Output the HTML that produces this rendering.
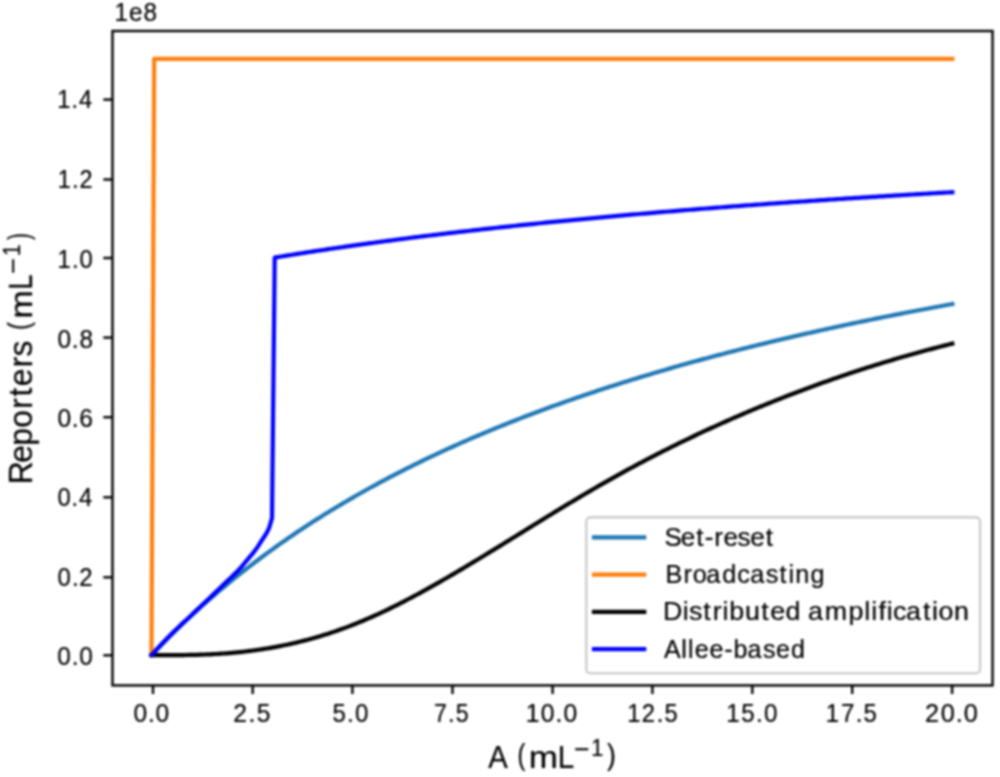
<!DOCTYPE html>
<html><head><meta charset="utf-8"><style>
html,body{margin:0;padding:0;background:#fff;}
svg{display:block;filter:blur(0.9px);}
text{font-family:"Liberation Sans", sans-serif;}
</style></head><body>
<svg width="1000" height="777" viewBox="0 0 1000 777">
<rect width="1000" height="777" fill="#fff"/>
<clipPath id="c"><rect x="112.5" y="31.0" width="880.05" height="654.4"/></clipPath>
<g clip-path="url(#c)">
<polyline points="151.50,655.10 154.18,652.27 156.86,649.46 159.53,646.68 162.21,643.93 164.89,641.20 167.57,638.50 170.25,635.82 172.93,633.17 175.60,630.54 178.28,627.94 180.96,625.35 183.64,622.80 186.32,620.26 189.00,617.75 191.67,615.26 194.35,612.79 197.03,610.34 199.71,607.92 202.39,605.52 205.07,603.13 207.74,600.77 210.42,598.43 213.10,596.11 215.78,593.81 218.46,591.52 221.13,589.26 223.81,587.02 226.49,584.79 229.17,582.59 231.85,580.40 234.53,578.23 237.20,576.08 239.88,573.94 242.56,571.83 245.24,569.73 247.92,567.64 250.60,565.58 253.27,563.53 255.95,561.50 258.63,559.48 261.31,557.48 263.99,555.50 266.67,553.53 269.34,551.58 272.02,549.64 274.70,547.71 277.38,545.81 280.06,543.91 282.73,542.04 285.41,540.17 288.09,538.32 290.77,536.49 293.45,534.67 296.13,532.86 298.80,531.06 301.48,529.28 304.16,527.52 306.84,525.76 309.52,524.02 312.20,522.29 314.87,520.58 317.55,518.88 320.23,517.19 322.91,515.51 325.59,513.84 328.27,512.19 330.94,510.55 333.62,508.92 336.30,507.30 338.98,505.69 341.66,504.10 344.33,502.51 347.01,500.94 349.69,499.38 352.37,497.83 355.05,496.29 357.73,494.76 360.40,493.24 363.08,491.73 365.76,490.24 368.44,488.75 371.12,487.27 373.80,485.81 376.47,484.35 379.15,482.90 381.83,481.46 384.51,480.04 387.19,478.62 389.87,477.21 392.54,475.81 395.22,474.42 397.90,473.04 400.58,471.67 403.26,470.31 405.93,468.95 408.61,467.61 411.29,466.27 413.97,464.94 416.65,463.63 419.33,462.32 422.00,461.01 424.68,459.72 427.36,458.43 430.04,457.16 432.72,455.89 435.40,454.63 438.07,453.38 440.75,452.13 443.43,450.89 446.11,449.66 448.79,448.44 451.47,447.23 454.14,446.02 456.82,444.82 459.50,443.63 462.18,442.44 464.86,441.27 467.53,440.10 470.21,438.93 472.89,437.78 475.57,436.63 478.25,435.49 480.93,434.35 483.60,433.22 486.28,432.10 488.96,430.99 491.64,429.88 494.32,428.78 497.00,427.68 499.67,426.59 502.35,425.51 505.03,424.43 507.71,423.36 510.39,422.30 513.07,421.24 515.74,420.19 518.42,419.14 521.10,418.11 523.78,417.07 526.46,416.04 529.13,415.02 531.81,414.01 534.49,413.00 537.17,411.99 539.85,410.99 542.53,410.00 545.20,409.01 547.88,408.03 550.56,407.05 553.24,406.08 555.92,405.12 558.60,404.16 561.27,403.20 563.95,402.25 566.63,401.31 569.31,400.37 571.99,399.43 574.67,398.50 577.34,397.58 580.02,396.66 582.70,395.75 585.38,394.84 588.06,393.93 590.73,393.03 593.41,392.14 596.09,391.25 598.77,390.36 601.45,389.48 604.13,388.61 606.80,387.73 609.48,386.87 612.16,386.00 614.84,385.15 617.52,384.29 620.20,383.44 622.87,382.60 625.55,381.76 628.23,380.92 630.91,380.09 633.59,379.26 636.27,378.44 638.94,377.62 641.62,376.81 644.30,376.00 646.98,375.19 649.66,374.39 652.33,373.59 655.01,372.80 657.69,372.01 660.37,371.22 663.05,370.44 665.73,369.66 668.40,368.88 671.08,368.11 673.76,367.35 676.44,366.58 679.12,365.82 681.80,365.07 684.47,364.31 687.15,363.57 689.83,362.82 692.51,362.08 695.19,361.34 697.87,360.61 700.54,359.88 703.22,359.15 705.90,358.43 708.58,357.71 711.26,356.99 713.93,356.28 716.61,355.57 719.29,354.86 721.97,354.16 724.65,353.46 727.33,352.76 730.00,352.07 732.68,351.38 735.36,350.69 738.04,350.01 740.72,349.33 743.40,348.65 746.07,347.98 748.75,347.30 751.43,346.64 754.11,345.97 756.79,345.31 759.47,344.65 762.14,344.00 764.82,343.34 767.50,342.69 770.18,342.05 772.86,341.40 775.53,340.76 778.21,340.12 780.89,339.49 783.57,338.86 786.25,338.23 788.93,337.60 791.60,336.98 794.28,336.35 796.96,335.74 799.64,335.12 802.32,334.51 805.00,333.90 807.67,333.29 810.35,332.68 813.03,332.08 815.71,331.48 818.39,330.89 821.07,330.29 823.74,329.70 826.42,329.11 829.10,328.52 831.78,327.94 834.46,327.36 837.13,326.78 839.81,326.20 842.49,325.63 845.17,325.05 847.85,324.49 850.53,323.92 853.20,323.35 855.88,322.79 858.56,322.23 861.24,321.67 863.92,321.12 866.60,320.57 869.27,320.02 871.95,319.47 874.63,318.92 877.31,318.38 879.99,317.84 882.67,317.30 885.34,316.76 888.02,316.23 890.70,315.69 893.38,315.16 896.06,314.63 898.73,314.11 901.41,313.58 904.09,313.06 906.77,312.54 909.45,312.03 912.13,311.51 914.80,311.00 917.48,310.49 920.16,309.98 922.84,309.47 925.52,308.96 928.20,308.46 930.87,307.96 933.55,307.46 936.23,306.96 938.91,306.47 941.59,305.98 944.27,305.49 946.94,305.00 949.62,304.51 952.30,304.02" fill="none" stroke="#1f77b4" stroke-width="4.2" stroke-linejoin="round" stroke-linecap="square"/>
<polyline points="151.50,655.10 154.18,58.90 952.30,58.90" fill="none" stroke="#ff7f0e" stroke-width="4.2" stroke-linejoin="round" stroke-linecap="square"/>
<polyline points="151.50,655.07 154.18,655.09 156.86,655.10 159.53,655.12 162.21,655.13 164.89,655.13 167.57,655.13 170.25,655.13 172.93,655.13 175.60,655.11 178.28,655.10 180.96,655.07 183.64,655.04 186.32,655.01 189.00,654.96 191.67,654.91 194.35,654.85 197.03,654.78 199.71,654.70 202.39,654.61 205.07,654.51 207.74,654.40 210.42,654.28 213.10,654.15 215.78,654.01 218.46,653.85 221.13,653.68 223.81,653.50 226.49,653.30 229.17,653.09 231.85,652.86 234.53,652.62 237.20,652.37 239.88,652.09 242.56,651.81 245.24,651.51 247.92,651.19 250.60,650.85 253.27,650.50 255.95,650.14 258.63,649.75 261.31,649.36 263.99,648.94 266.67,648.51 269.34,648.06 272.02,647.59 274.70,647.11 277.38,646.61 280.06,646.09 282.73,645.56 285.41,645.01 288.09,644.43 290.77,643.85 293.45,643.24 296.13,642.62 298.80,641.97 301.48,641.31 304.16,640.63 306.84,639.93 309.52,639.21 312.20,638.48 314.87,637.72 317.55,636.95 320.23,636.15 322.91,635.34 325.59,634.50 328.27,633.65 330.94,632.78 333.62,631.88 336.30,630.97 338.98,630.03 341.66,629.08 344.33,628.10 347.01,627.11 349.69,626.09 352.37,625.05 355.05,623.99 357.73,622.91 360.40,621.81 363.08,620.69 365.76,619.55 368.44,618.40 371.12,617.22 373.80,616.03 376.47,614.81 379.15,613.58 381.83,612.34 384.51,611.07 387.19,609.79 389.87,608.50 392.54,607.19 395.22,605.86 397.90,604.52 400.58,603.16 403.26,601.79 405.93,600.41 408.61,599.01 411.29,597.60 413.97,596.18 416.65,594.74 419.33,593.30 422.00,591.84 424.68,590.37 427.36,588.89 430.04,587.40 432.72,585.90 435.40,584.39 438.07,582.87 440.75,581.34 443.43,579.80 446.11,578.25 448.79,576.70 451.47,575.14 454.14,573.57 456.82,572.00 459.50,570.41 462.18,568.83 464.86,567.23 467.53,565.63 470.21,564.03 472.89,562.42 475.57,560.80 478.25,559.18 480.93,557.56 483.60,555.93 486.28,554.30 488.96,552.66 491.64,551.02 494.32,549.38 497.00,547.74 499.67,546.09 502.35,544.44 505.03,542.79 507.71,541.14 510.39,539.48 513.07,537.83 515.74,536.17 518.42,534.51 521.10,532.86 523.78,531.20 526.46,529.54 529.13,527.89 531.81,526.23 534.49,524.58 537.17,522.92 539.85,521.27 542.53,519.62 545.20,517.98 547.88,516.33 550.56,514.69 553.24,513.05 555.92,511.41 558.60,509.78 561.27,508.15 563.95,506.53 566.63,504.91 569.31,503.30 571.99,501.69 574.67,500.08 577.34,498.48 580.02,496.89 582.70,495.30 585.38,493.72 588.06,492.15 590.73,490.58 593.41,489.02 596.09,487.47 598.77,485.92 601.45,484.39 604.13,482.86 606.80,481.34 609.48,479.82 612.16,478.32 614.84,476.82 617.52,475.33 620.20,473.85 622.87,472.38 625.55,470.91 628.23,469.46 630.91,468.01 633.59,466.56 636.27,465.13 638.94,463.70 641.62,462.28 644.30,460.87 646.98,459.47 649.66,458.07 652.33,456.69 655.01,455.31 657.69,453.93 660.37,452.57 663.05,451.21 665.73,449.86 668.40,448.52 671.08,447.18 673.76,445.85 676.44,444.53 679.12,443.22 681.80,441.91 684.47,440.61 687.15,439.32 689.83,438.03 692.51,436.76 695.19,435.49 697.87,434.22 700.54,432.97 703.22,431.72 705.90,430.47 708.58,429.24 711.26,428.01 713.93,426.79 716.61,425.57 719.29,424.37 721.97,423.16 724.65,421.97 727.33,420.78 730.00,419.60 732.68,418.43 735.36,417.26 738.04,416.10 740.72,414.95 743.40,413.80 746.07,412.66 748.75,411.53 751.43,410.40 754.11,409.28 756.79,408.16 759.47,407.05 762.14,405.95 764.82,404.86 767.50,403.77 770.18,402.68 772.86,401.61 775.53,400.54 778.21,399.47 780.89,398.42 783.57,397.37 786.25,396.32 788.93,395.28 791.60,394.25 794.28,393.22 796.96,392.20 799.64,391.19 802.32,390.18 805.00,389.18 807.67,388.19 810.35,387.20 813.03,386.21 815.71,385.24 818.39,384.27 821.07,383.31 823.74,382.35 826.42,381.40 829.10,380.45 831.78,379.51 834.46,378.58 837.13,377.65 839.81,376.73 842.49,375.82 845.17,374.91 847.85,374.01 850.53,373.11 853.20,372.22 855.88,371.34 858.56,370.46 861.24,369.59 863.92,368.73 866.60,367.87 869.27,367.02 871.95,366.17 874.63,365.33 877.31,364.50 879.99,363.67 882.67,362.85 885.34,362.03 888.02,361.22 890.70,360.42 893.38,359.62 896.06,358.83 898.73,358.05 901.41,357.27 904.09,356.50 906.77,355.73 909.45,354.97 912.13,354.21 914.80,353.47 917.48,352.72 920.16,351.99 922.84,351.26 925.52,350.53 928.20,349.81 930.87,349.10 933.55,348.40 936.23,347.70 938.91,347.00 941.59,346.32 944.27,345.63 946.94,344.96 949.62,344.29 952.30,343.62" fill="none" stroke="#000000" stroke-width="4.2" stroke-linejoin="round" stroke-linecap="square"/>
<polyline points="151.50,655.10 154.18,652.15 156.86,649.24 159.53,646.36 162.21,643.52 164.89,640.73 167.57,637.97 170.25,635.25 172.93,632.58 175.60,629.97 178.28,627.42 180.96,624.90 183.64,622.41 186.32,619.92 189.00,617.43 191.67,614.91 194.35,612.37 197.03,609.84 199.71,607.30 202.39,604.77 205.07,602.23 207.74,599.70 210.42,597.16 213.10,594.61 215.78,592.06 218.46,589.50 221.13,586.93 223.81,584.35 226.49,581.77 229.17,579.24 231.85,576.71 234.53,574.13 237.20,571.46 239.88,568.63 242.56,565.53 245.24,562.23 247.92,559.03 250.60,555.96 253.27,552.79 255.95,549.31 258.63,545.34 261.31,541.16 263.99,537.05 266.67,532.94 269.34,527.27 272.02,518.12 274.70,257.59 277.38,257.15 280.06,256.71 282.73,256.27 285.41,255.83 288.09,255.40 290.77,254.97 293.45,254.54 296.13,254.11 298.80,253.69 301.48,253.27 304.16,252.85 306.84,252.43 309.52,252.02 312.20,251.60 314.87,251.19 317.55,250.79 320.23,250.38 322.91,249.98 325.59,249.58 328.27,249.18 330.94,248.78 333.62,248.39 336.30,247.99 338.98,247.60 341.66,247.21 344.33,246.83 347.01,246.44 349.69,246.06 352.37,245.68 355.05,245.30 357.73,244.93 360.40,244.55 363.08,244.18 365.76,243.81 368.44,243.44 371.12,243.07 373.80,242.71 376.47,242.35 379.15,241.98 381.83,241.62 384.51,241.27 387.19,240.91 389.87,240.56 392.54,240.21 395.22,239.86 397.90,239.51 400.58,239.16 403.26,238.82 405.93,238.47 408.61,238.13 411.29,237.79 413.97,237.45 416.65,237.12 419.33,236.78 422.00,236.45 424.68,236.12 427.36,235.79 430.04,235.46 432.72,235.13 435.40,234.81 438.07,234.48 440.75,234.16 443.43,233.84 446.11,233.52 448.79,233.20 451.47,232.89 454.14,232.57 456.82,232.26 459.50,231.95 462.18,231.64 464.86,231.33 467.53,231.03 470.21,230.72 472.89,230.42 475.57,230.11 478.25,229.81 480.93,229.51 483.60,229.21 486.28,228.92 488.96,228.62 491.64,228.33 494.32,228.03 497.00,227.74 499.67,227.45 502.35,227.16 505.03,226.88 507.71,226.59 510.39,226.30 513.07,226.02 515.74,225.74 518.42,225.46 521.10,225.18 523.78,224.90 526.46,224.62 529.13,224.35 531.81,224.07 534.49,223.80 537.17,223.52 539.85,223.25 542.53,222.98 545.20,222.71 547.88,222.45 550.56,222.18 553.24,221.91 555.92,221.65 558.60,221.39 561.27,221.13 563.95,220.87 566.63,220.61 569.31,220.35 571.99,220.09 574.67,219.83 577.34,219.58 580.02,219.32 582.70,219.07 585.38,218.82 588.06,218.57 590.73,218.32 593.41,218.07 596.09,217.82 598.77,217.58 601.45,217.33 604.13,217.09 606.80,216.84 609.48,216.60 612.16,216.36 614.84,216.12 617.52,215.88 620.20,215.64 622.87,215.40 625.55,215.17 628.23,214.93 630.91,214.70 633.59,214.46 636.27,214.23 638.94,214.00 641.62,213.77 644.30,213.54 646.98,213.31 649.66,213.08 652.33,212.86 655.01,212.63 657.69,212.41 660.37,212.18 663.05,211.96 665.73,211.74 668.40,211.52 671.08,211.29 673.76,211.07 676.44,210.86 679.12,210.64 681.80,210.42 684.47,210.21 687.15,209.99 689.83,209.78 692.51,209.56 695.19,209.35 697.87,209.14 700.54,208.93 703.22,208.72 705.90,208.51 708.58,208.30 711.26,208.09 713.93,207.88 716.61,207.68 719.29,207.47 721.97,207.27 724.65,207.06 727.33,206.86 730.00,206.66 732.68,206.46 735.36,206.25 738.04,206.05 740.72,205.86 743.40,205.66 746.07,205.46 748.75,205.26 751.43,205.07 754.11,204.87 756.79,204.68 759.47,204.48 762.14,204.29 764.82,204.10 767.50,203.90 770.18,203.71 772.86,203.52 775.53,203.33 778.21,203.14 780.89,202.96 783.57,202.77 786.25,202.58 788.93,202.39 791.60,202.21 794.28,202.02 796.96,201.84 799.64,201.66 802.32,201.47 805.00,201.29 807.67,201.11 810.35,200.93 813.03,200.75 815.71,200.57 818.39,200.39 821.07,200.21 823.74,200.03 826.42,199.86 829.10,199.68 831.78,199.50 834.46,199.33 837.13,199.16 839.81,198.98 842.49,198.81 845.17,198.64 847.85,198.46 850.53,198.29 853.20,198.12 855.88,197.95 858.56,197.78 861.24,197.61 863.92,197.44 866.60,197.28 869.27,197.11 871.95,196.94 874.63,196.78 877.31,196.61 879.99,196.45 882.67,196.28 885.34,196.12 888.02,195.95 890.70,195.79 893.38,195.63 896.06,195.47 898.73,195.31 901.41,195.15 904.09,194.99 906.77,194.83 909.45,194.67 912.13,194.51 914.80,194.35 917.48,194.20 920.16,194.04 922.84,193.88 925.52,193.73 928.20,193.57 930.87,193.42 933.55,193.26 936.23,193.11 938.91,192.96 941.59,192.80 944.27,192.65 946.94,192.50 949.62,192.35 952.30,192.20" fill="none" stroke="#0000ff" stroke-width="4.2" stroke-linejoin="round" stroke-linecap="square"/>
</g>
<line x1="103.3" y1="655.3" x2="112.5" y2="655.3" stroke="#000" stroke-width="2.4"/>
<line x1="103.3" y1="577.3" x2="112.5" y2="577.3" stroke="#000" stroke-width="2.4"/>
<line x1="103.3" y1="497.3" x2="112.5" y2="497.3" stroke="#000" stroke-width="2.4"/>
<line x1="103.3" y1="417.2" x2="112.5" y2="417.2" stroke="#000" stroke-width="2.4"/>
<line x1="103.3" y1="337.6" x2="112.5" y2="337.6" stroke="#000" stroke-width="2.4"/>
<line x1="103.3" y1="258.0" x2="112.5" y2="258.0" stroke="#000" stroke-width="2.4"/>
<line x1="103.3" y1="179.5" x2="112.5" y2="179.5" stroke="#000" stroke-width="2.4"/>
<line x1="103.3" y1="99.6" x2="112.5" y2="99.6" stroke="#000" stroke-width="2.4"/>
<line x1="153.0" y1="685.4" x2="153.0" y2="694.0" stroke="#000" stroke-width="2.4"/>
<line x1="252.7" y1="685.4" x2="252.7" y2="694.0" stroke="#000" stroke-width="2.4"/>
<line x1="352.4" y1="685.4" x2="352.4" y2="694.0" stroke="#000" stroke-width="2.4"/>
<line x1="452.5" y1="685.4" x2="452.5" y2="694.0" stroke="#000" stroke-width="2.4"/>
<line x1="552.6" y1="685.4" x2="552.6" y2="694.0" stroke="#000" stroke-width="2.4"/>
<line x1="652.4" y1="685.4" x2="652.4" y2="694.0" stroke="#000" stroke-width="2.4"/>
<line x1="752.3" y1="685.4" x2="752.3" y2="694.0" stroke="#000" stroke-width="2.4"/>
<line x1="852.2" y1="685.4" x2="852.2" y2="694.0" stroke="#000" stroke-width="2.4"/>
<line x1="952.1" y1="685.4" x2="952.1" y2="694.0" stroke="#000" stroke-width="2.4"/>
<rect x="112.5" y="31.0" width="880.05" height="654.4" fill="none" stroke="#000" stroke-width="2.4" stroke-linejoin="miter"/>
<rect x="586.3" y="517.4" width="393.8" height="155.9" rx="4" ry="4" fill="#ffffff" fill-opacity="0.8" stroke="#c6c6c6" stroke-width="2.1"/>
<line x1="594.0" y1="537.3" x2="644.2" y2="537.3" stroke="#1f77b4" stroke-width="4.2" stroke-linecap="square"/>
<line x1="594.0" y1="574.6" x2="644.2" y2="574.6" stroke="#ff7f0e" stroke-width="4.2" stroke-linecap="square"/>
<line x1="594.0" y1="611.9" x2="644.2" y2="611.9" stroke="#000000" stroke-width="4.2" stroke-linecap="square"/>
<line x1="594.0" y1="649.2" x2="644.2" y2="649.2" stroke="#0000ff" stroke-width="4.2" stroke-linecap="square"/>
<g fill="#000" stroke="#000">
<text transform="translate(0,107.65) scale(0.23558,0.25436)" x="242.99 303.34 335.70" y="0" font-size="100" stroke-width="0.82">1.4</text>
<text transform="translate(0,187.70) scale(0.23432,0.25436)" x="246.17 307.23 338.96" y="0" font-size="100" stroke-width="0.82">1.2</text>
<text transform="translate(0,267.75) scale(0.23803,0.25436)" x="241.81 302.00 334.08" y="0" font-size="100" stroke-width="0.81">1.0</text>
<text transform="translate(0,347.50) scale(0.24432,0.25436)" x="235.13 293.95 325.07" y="0" font-size="100" stroke-width="0.80">0.8</text>
<text transform="translate(0,427.15) scale(0.24580,0.25436)" x="233.46 291.86 322.53" y="0" font-size="100" stroke-width="0.80">0.6</text>
<text transform="translate(0,505.50) scale(0.23821,0.25436)" x="241.42 300.52 331.94" y="0" font-size="100" stroke-width="0.81">0.4</text>
<text transform="translate(0,585.50) scale(0.23984,0.25436)" x="240.08 299.80 330.50" y="0" font-size="100" stroke-width="0.81">0.2</text>
<text transform="translate(0,665.30) scale(0.24398,0.25436)" x="235.12 294.06 325.17" y="0" font-size="100" stroke-width="0.80">0.0</text>
<text transform="translate(0,721.90) scale(0.24579,0.25436)" x="542.75 601.70 632.81" y="0" font-size="100" stroke-width="0.80">0.0</text>
<text transform="translate(0,721.90) scale(0.24675,0.25436)" x="945.05 1007.33 1040.30" y="0" font-size="100" stroke-width="0.80">2.5</text>
<text transform="translate(0,721.90) scale(0.24125,0.25436)" x="1378.38 1438.80 1471.16" y="0" font-size="100" stroke-width="0.81">5.0</text>
<text transform="translate(0,721.90) scale(0.23272,0.25436)" x="1864.66 1925.49 1958.13" y="0" font-size="100" stroke-width="0.82">7.5</text>
<text transform="translate(0,721.90) scale(0.24691,0.25436)" x="2129.12 2190.36 2249.98 2281.77" y="0" font-size="100" stroke-width="0.80">10.0</text>
<text transform="translate(0,721.90) scale(0.23735,0.25436)" x="2642.31 2704.31 2766.69 2799.74" y="0" font-size="100" stroke-width="0.81">12.5</text>
<text transform="translate(0,721.90) scale(0.24213,0.25436)" x="2999.34 3061.53 3122.29 3154.98" y="0" font-size="100" stroke-width="0.81">15.0</text>
<text transform="translate(0,721.90) scale(0.24056,0.25436)" x="3433.17 3495.97 3556.99 3589.81" y="0" font-size="100" stroke-width="0.81">17.5</text>
<text transform="translate(0,721.90) scale(0.25312,0.25436)" x="3654.85 3716.84 3776.34 3808.01" y="0" font-size="100" stroke-width="0.79">20.0</text>
<text transform="translate(0,20.55) scale(0.24261,0.25436)" x="471.97 532.09 591.47" y="0" font-size="100" stroke-width="0.80">1e8</text>
<text transform="translate(0,545.80) scale(0.26023,0.25436)" x="2553.35 2616.07 2676.00 2708.25 2745.21 2780.00 2833.64 2882.66 2942.60" y="0" font-size="100" stroke-width="0.78">Set-reset</text>
<text transform="translate(0,583.10) scale(0.25272,0.25436)" x="2633.16 2704.76 2741.25 2794.75 2857.88 2917.39 2968.27 3030.03 3084.30 3119.73 3147.18 3207.56" y="0" font-size="100" stroke-width="0.79">Broadcasting</text>
<text transform="translate(0,620.40) scale(0.26835,0.25436)" x="2470.95 2544.41 2567.96 2620.29 2656.31 2692.21 2717.96 2775.81 2837.06 2869.99 2926.95 2982.56 3010.90 3073.90 3162.22 3220.66 3246.30 3273.49 3304.41 3327.52 3375.97 3439.48 3473.47 3497.69 3555.41" y="0" font-size="100" stroke-width="0.77">Distributed amplification</text>
<text transform="translate(0,657.70) scale(0.25049,0.25436)" x="2651.11 2720.00 2746.85 2773.37 2832.80 2891.04 2928.38 2984.60 3046.40 3097.95 3157.54" y="0" font-size="100" stroke-width="0.79">Allee-based</text>
<text transform="translate(488.23,768.20) scale(0.29283,0.31977)" font-size="100" stroke-width="0.65">A</text>
<text transform="translate(517.52,765.38) scale(0.23619,0.29491)" font-size="100" stroke-width="0.75">(</text>
<text transform="translate(528.63,768.20) scale(0.35143,0.31970)" font-size="100" stroke-width="0.60">m</text>
<text transform="translate(557.76,768.20) scale(0.29545,0.31977)" font-size="100" stroke-width="0.65">L</text>
<text transform="translate(573.88,758.08) scale(0.26392,0.26207)" font-size="100" stroke-width="0.76">−</text>
<text transform="translate(591.27,756.20) scale(0.21734,0.23418)" font-size="100" stroke-width="0.89">1</text>
<text transform="translate(607.10,765.24) scale(0.26667,0.29705)" font-size="100" stroke-width="0.71">)</text>
<g transform="translate(31.6,0) rotate(-90)">
<text transform="translate(0,0.00) scale(0.31844,0.32558)" x="-1520.59 -1453.32 -1399.80 -1343.03 -1283.39 -1245.46 -1212.74 -1153.15 -1119.51" y="0" font-size="100" stroke-width="0.62">Reporters</text>
<text transform="translate(-329.88,-2.76) scale(0.23619,0.28740)" font-size="100" stroke-width="0.76">(</text>
<text transform="translate(-318.59,0.00) scale(0.33857,0.32156)" font-size="100" stroke-width="0.61">m</text>
<text transform="translate(-289.69,0.00) scale(0.27727,0.32558)" font-size="100" stroke-width="0.66">L</text>
<text transform="translate(-273.96,-9.67) scale(0.27216,0.26207)" font-size="100" stroke-width="0.75">−</text>
<text transform="translate(-256.06,-12.10) scale(0.20809,0.23127)" font-size="100" stroke-width="0.91">1</text>
<text transform="translate(-239.75,-2.85) scale(0.19810,0.29169)" font-size="100" stroke-width="0.82">)</text>
</g>
</g>
</svg>
</body></html>
